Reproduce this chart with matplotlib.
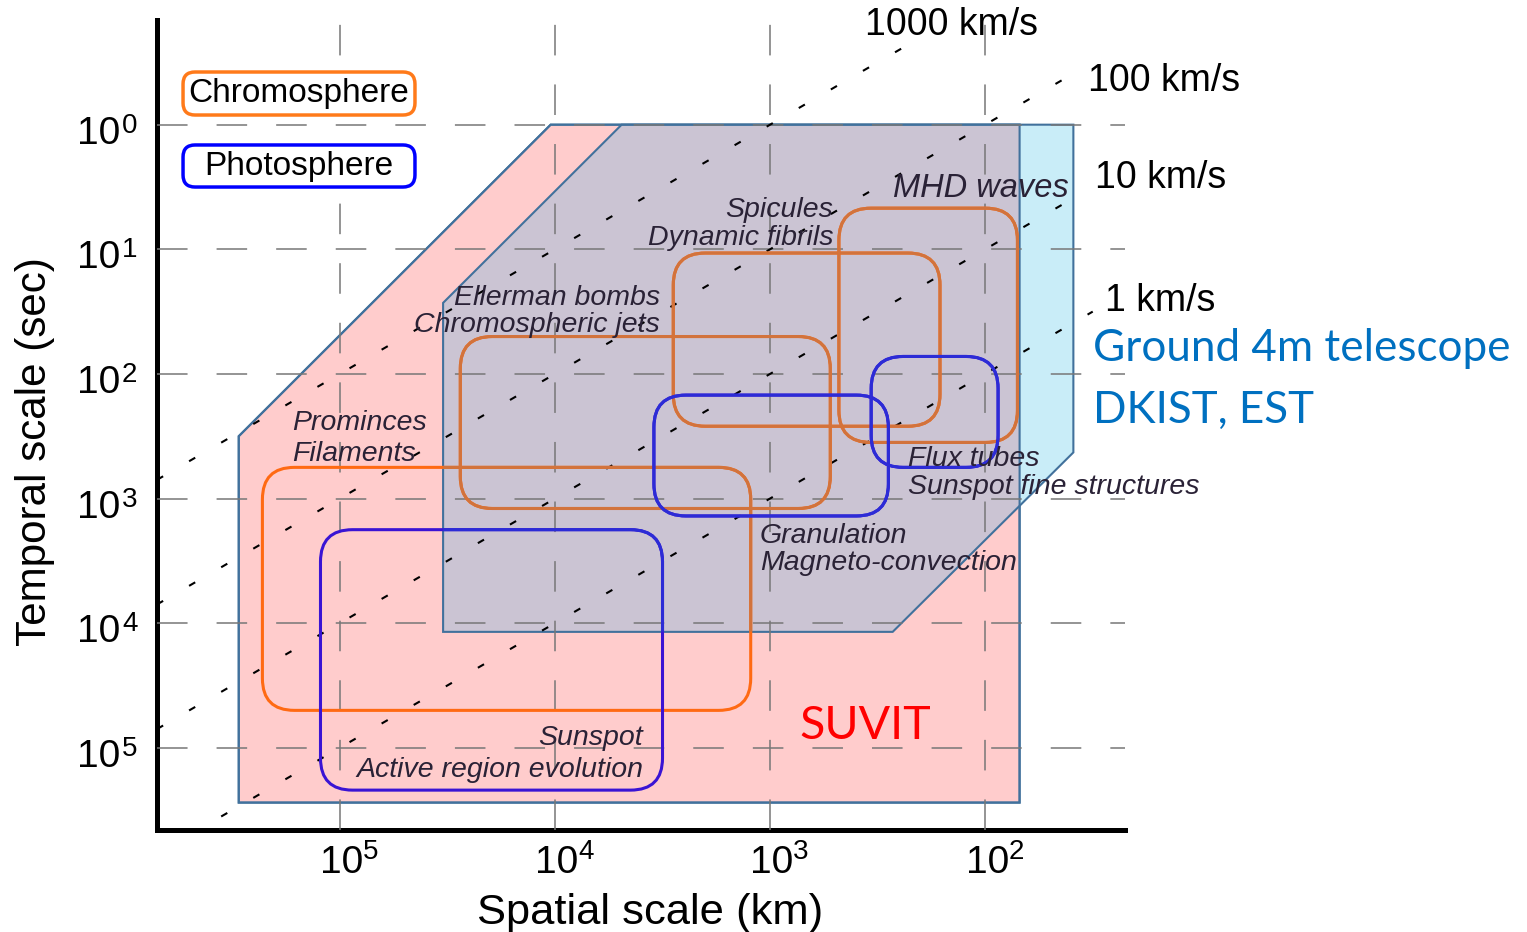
import matplotlib
matplotlib.use('Agg')
import matplotlib.pyplot as plt
import numpy as np
from matplotlib.patches import Polygon, FancyBboxPatch

plt.rcParams['font.family'] = ['Liberation Sans', 'DejaVu Sans']

# axes are in log10 units: spatial scale (km) and temporal scale (sec)
x_lim = (5.85, 1.35)
y_lim = (5.66, -0.84)
x_decades = [5, 4, 3, 2]
y_decades = [0, 1, 2, 3, 4, 5]

# constant-velocity lines: log10(t) = log10(L) - log10(v)
velocities = [1000, 100, 10, 1]
velocity_labels = ['1000 km/s', '100 km/s', '10 km/s', '1 km/s']
velocity_end = [2.33, 1.53, 1.53, 1.50]   # log10 km where each line stops

# instrument domains (log10 km, log10 sec)
suvit_x = [5.47, 4.02, 1.84, 1.84, 5.47]
suvit_y = [2.50, 0.00, 0.00, 5.44, 5.44]
ground_x = [4.52, 3.69, 1.59, 1.59, 2.43, 4.52]
ground_y = [1.43, 0.00, 0.00, 2.63, 4.07, 4.07]

# phenomena: spatial range (log10 km), temporal range (log10 sec), layer
box_names = ['Prominences', 'Sunspot', 'Ellerman bombs', 'Spicules',
             'MHD waves', 'Granulation', 'Flux tubes']
box_L = [(3.09, 5.36), (3.50, 5.09), (2.72, 4.44), (2.21, 3.45),
         (1.85, 2.68), (2.45, 3.54), (1.94, 2.53)]
box_t = [(2.75, 4.70), (3.25, 5.34), (1.70, 3.08), (1.03, 2.42),
         (0.67, 2.55), (2.17, 3.14), (1.86, 2.75)]
box_layer = ['chromo', 'photo', 'chromo', 'chromo', 'chromo', 'photo', 'photo']

layer_color = {'chromo': '#ff6a13', 'photo': '#3a14d4'}
layer_color_dim = {'chromo': '#d2733c', 'photo': '#2c2cd6'}

fig = plt.figure(figsize=(15.27, 9.32), dpi=100)
W, H = 1527, 932
ax = fig.add_axes([157 / W, (932 - 830) / H, 968 / W, 810 / H])
ax.set_xlim(*x_lim)
ax.set_ylim(*y_lim)

px_x = 968 / abs(x_lim[0] - x_lim[1])
px_y = 810 / abs(y_lim[0] - y_lim[1])
pt = 0.72  # points per pixel at 100 dpi

# shaded domains
suvit = Polygon(np.column_stack([suvit_x, suvit_y]), closed=True,
                facecolor='#ffcccc', edgecolor='#41719c', lw=1.5, zorder=1)
ax.add_patch(suvit)
ground = Polygon(np.column_stack([ground_x, ground_y]), closed=True,
                 facecolor='#c9edf8', edgecolor='none', zorder=1.1)
ax.add_patch(ground)
overlap = Polygon(np.column_stack([ground_x, ground_y]), closed=True,
                  facecolor='#cbc4d3', edgecolor='none', zorder=1.2)
ax.add_patch(overlap)
overlap.set_clip_path(suvit)
ax.add_patch(Polygon(np.column_stack([ground_x, ground_y]), closed=True,
                     facecolor='none', edgecolor='#41719c', lw=1.5, zorder=1.3))
ax.add_patch(Polygon(np.column_stack([suvit_x, suvit_y]), closed=True,
                     facecolor='none', edgecolor='#41719c', lw=1.5, zorder=1.3))

# grid + hand-made "10^n" tick labels
ax.set_xticks(x_decades)
ax.set_yticks(y_decades)
ax.set_xticklabels([])
ax.set_yticklabels([])
ax.tick_params(length=0)
ax.grid(True, color='#777777', lw=1.1, dashes=(20, 19))
ax.set_axisbelow(False)

for d in x_decades:
    ax.annotate('10', xy=(d, 0), xycoords=('data', 'axes fraction'),
                xytext=(2 * pt, -43 * pt), textcoords='offset points',
                fontsize=28, ha='center', va='baseline', annotation_clip=False)
    ax.annotate(str(d), xy=(d, 0), xycoords=('data', 'axes fraction'),
                xytext=(23 * pt, -29 * pt), textcoords='offset points',
                fontsize=20, ha='left', va='baseline', annotation_clip=False)
for d in y_decades:
    ax.annotate('10', xy=(0, d), xycoords=('axes fraction', 'data'),
                xytext=(-37 * pt, -19 * pt), textcoords='offset points',
                fontsize=28, ha='right', va='baseline', annotation_clip=False)
    ax.annotate(str(d), xy=(0, d), xycoords=('axes fraction', 'data'),
                xytext=(-35 * pt, -8 * pt), textcoords='offset points',
                fontsize=20, ha='left', va='baseline', annotation_clip=False)

# velocity lines
for v, xe in zip(velocities, velocity_end):
    xs = np.array([x_lim[0], xe])
    ax.plot(xs, xs - np.log10(v), color='black', lw=1.5, dashes=(3.4, 14.4), zorder=2.6)

vel_label_pos = [(2.558, -0.80), (1.521, -0.35), (1.488, 0.43), (1.442, 1.416)]
for lab, (x, y) in zip(velocity_labels, vel_label_pos):
    ax.text(x, y, lab, fontsize=27, ha='left', va='center', clip_on=False)

# phenomenon boxes
r = 32 / px_x
asp = px_x / px_y
for L, t, layer in zip(box_L, box_t, box_layer):
    for col, clip in ((layer_color[layer], None), (layer_color_dim[layer], ground)):
        b = FancyBboxPatch((L[0], t[0]), L[1] - L[0], t[1] - t[0],
                           boxstyle='round,pad=0,rounding_size=%f' % r,
                           mutation_aspect=asp, facecolor='none',
                           edgecolor=col, lw=2.2, zorder=3)
        ax.add_patch(b)
        if clip is not None:
            b.set_clip_path(clip)

# phenomenon labels: (text, x, y, ha, size)
labels = [
    ('Prominces', 5.223, 2.392, 'left', 20.5),
    ('Filaments', 5.223, 2.640, 'left', 20.5),
    ('Sunspot', 3.591, 4.920, 'right', 20.5),
    ('Active region evolution', 3.591, 5.177, 'right', 20.5),
    ('Ellerman bombs', 3.512, 1.388, 'right', 20.5),
    ('Chromospheric jets', 3.512, 1.605, 'right', 20.5),
    ('Spicules', 2.707, 0.682, 'right', 20.5),
    ('Dynamic fibrils', 2.707, 0.907, 'right', 20.5),
    ('MHD waves', 2.428, 0.514, 'left', 23.5),
    ('Granulation', 3.047, 3.298, 'left', 20.5),
    ('Magneto-convection', 3.047, 3.515, 'left', 20.5),
    ('Flux tubes', 2.358, 2.681, 'left', 20.5),
    ('Sunspot fine structures', 2.358, 2.905, 'left', 20.5),
]
for txt, x, y, ha, fs in labels:
    ax.text(x, y, txt, fontsize=fs, style='italic', color='#2a2236',
            ha=ha, va='center', zorder=4, clip_on=False)

# instrument labels
ax.text(2.558, 4.822, 'SUVIT', fontsize=33.5, color='#ff0000', family='Lato',
        ha='center', va='center', zorder=4)
ax.text(1.498, 1.80, 'Ground 4m telescope', fontsize=31.7, color='#0070c0',
        family='Lato', ha='left', va='center', clip_on=False)
ax.text(1.498, 2.29, 'DKIST, EST', fontsize=31.7, color='#0070c0',
        family='Lato', ha='left', va='center', clip_on=False)

# legend boxes (axes fraction)
ax_asp = 968 / 810
legend_items = [('Chromosphere', '#ff7a1a', 0.8827, 0.9358),
                ('Photosphere', '#0000ff', 0.7938, 0.8457)]
for name, col, y0, y1 in legend_items:
    ax.add_patch(FancyBboxPatch((0.0269, y0), 0.2396, y1 - y0,
                                boxstyle='round,pad=0,rounding_size=%f' % (12 / 968),
                                mutation_aspect=ax_asp, transform=ax.transAxes,
                                facecolor='white', edgecolor=col, lw=2.5, zorder=5))
    ax.text(0.0269 + 0.1198, (y0 + y1) / 2, name, transform=ax.transAxes,
            fontsize=24, ha='center', va='center', zorder=6)

# axes frame
for s in ['top', 'right']:
    ax.spines[s].set_visible(False)
for s in ['left', 'bottom']:
    ax.spines[s].set_linewidth(3.6)
ax.set_facecolor('none')

ax.set_xlabel('Spatial scale (km)', fontsize=31.3)
ax.set_ylabel('Temporal scale (sec)', fontsize=30.3)
ax.xaxis.set_label_coords(0.509, -0.078)
ax.yaxis.set_label_coords(-0.105, 0.467)

fig.savefig('out.png', dpi=100)
